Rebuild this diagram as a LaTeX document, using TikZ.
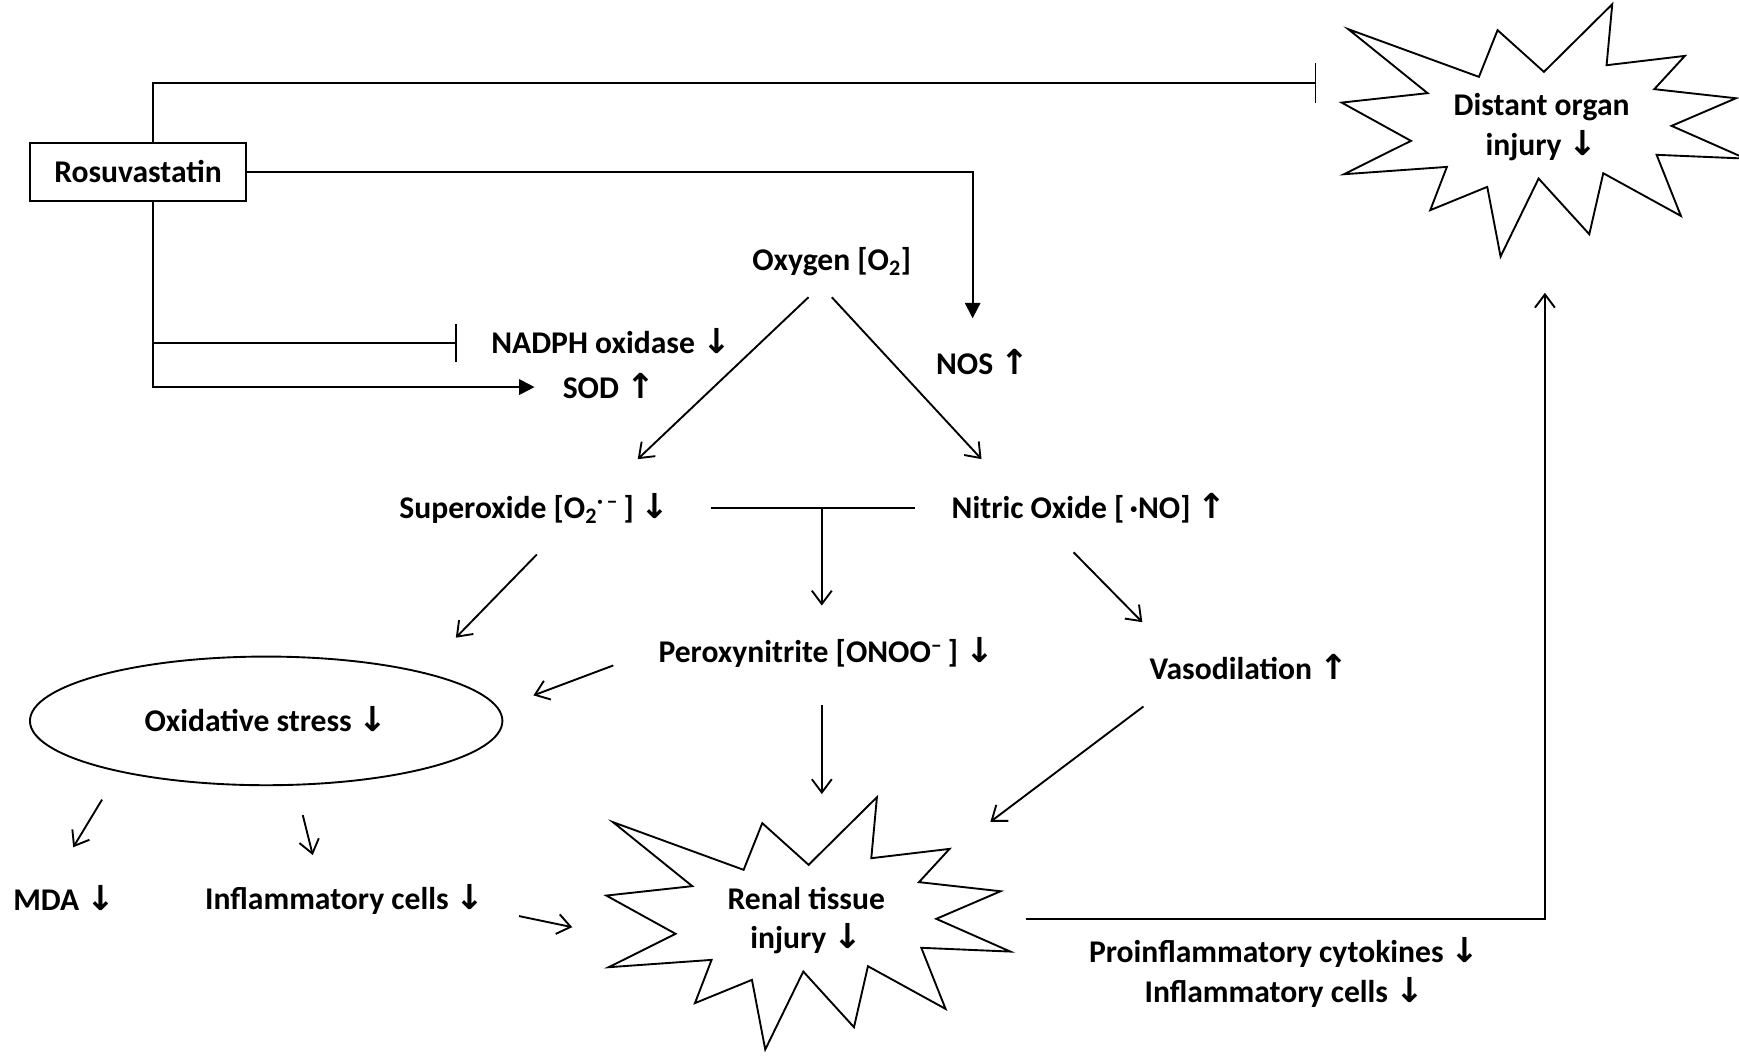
\documentclass[tikz,border=0pt]{standalone}
\usepackage{fontspec}
\setmainfont{Carlito}
\newfontfamily\arrowfont{DejaVu Sans}
\usepackage{tikz}
\usetikzlibrary{arrows.meta, calc, shapes.geometric}

\newcommand{\arrdown}{\smash{\arrowfont\bfseries\fontsize{31}{31}\selectfont ↓}}
\newcommand{\arrup}{\smash{\arrowfont\bfseries\fontsize{31}{31}\selectfont ↑}}
\newcommand{\burst}[1]{%
\draw (#1) +(-174.3,-88.7) -- +(-56.5,-45.7) -- +(-39.7,-87.8) -- +(2.1,-50.2) -- +(63.7,-111.2) -- +(58.6,-56.2) -- +(129.2,-64.6) -- +(101.6,-34.6) -- +(175.2,-26.4) -- +(117.2,-1.5) -- +(184,28) -- +(103.7,24.6) -- +(125.6,79.7) -- +(55.6,41.2) -- +(43,96.2) -- +(-2.7,46) -- +(-37,116.3) -- +(-49,53.5) -- +(-100.4,74.5) -- +(-85.4,35.5) -- +(-178.2,42.1) -- +(-117.8,12) -- +(-180.3,-22.5) -- +(-102.8,-31) -- cycle;}

\begin{document}
\begin{tikzpicture}[x=1pt,y=1pt,yscale=-1,xscale=1,line width=1.7pt,
  txt/.style={inner sep=0pt, font=\fontsize{28.5}{36}\selectfont\bfseries, align=center},
  opn/.style={-{Straight Barb[length=12pt,width=18pt]}},
  fld/.style={-{Triangle[length=14pt,width=14pt]}},
  blk/.style={-{Bar[width=36pt]}}]
\useasboundingbox (0,0) rectangle (1568,952);

% Text Node
\node[txt, draw, minimum width=195pt, minimum height=52pt] (rosu) at (124.5,155) {Rosuvastatin};
% Text Node
\node[txt] (oxy) at (750,236) {Oxygen [O\textsubscript{2}]};
% Text Node
\node[txt] (nadph) at (551,309) {NADPH oxidase \arrdown};
% Text Node
\node[txt] (sod) at (549,350) {SOD \arrup};
% Text Node
\node[txt] (nos) at (886,328) {NOS \arrup};
% Text Node
\node[txt] (sup) at (482,459) {Superoxide [O\textsubscript{2}\textsuperscript{·\,–}\,] \arrdown};
% Text Node
\node[txt] (no) at (982,459) {Nitric Oxide [\,·NO] \arrup};
% Text Node
\node[txt] (per) at (745,589) {Peroxynitrite [ONOO\textsuperscript{–}\,] \arrdown};
% Text Node
\node[txt] (vaso) at (1126,603) {Vasodilation \arrup};
% Shape: Ellipse
\node[txt, draw, ellipse, minimum width=426pt, minimum height=116pt] (oxs) at (240,650) {Oxidative stress \arrdown};
% Text Node
\node[txt] (mda) at (58,812) {MDA \arrdown};
% Text Node
\node[txt] (infl) at (311,812) {Inflammatory cells \arrdown};
% Shape: Explosion
\node[txt] (renal) at (727,830) {Renal tissue\\injury \arrdown};
\burst{renal}
% Shape: Explosion
\node[txt] (distant) at (1390,115) {Distant organ\\injury \arrdown};
\burst{distant}
% Text Node
\node[txt] (cyto) at (1158,878) {Proinflammatory cytokines \arrdown\\Inflammatory cells \arrdown};

\coordinate (trunk) at ($(rosu.south)+(13.5,0)$);
\coordinate (junc) at ($(per)+(-4,-131)$);

%Straight Lines
\draw[blk] ($(rosu.north)+(13.5,0)$) |- ($(distant)+(-203,-40)$);
%Straight Lines
\draw[fld] (rosu.east) -| ($(nos)+(-9,-41)$);
%Straight Lines
\draw[fld] (trunk) |- ($(sod)+(-67,-1)$);
%Straight Lines
\draw[-{Bar[width=34pt]}] (trunk |- nadph) -- ($(nadph)+(-139,0)$);
%Straight Lines
\draw[opn] ($(oxy)+(-21,32)$) -- ($(sup)+(93,-45)$);
%Straight Lines
\draw[opn] ($(oxy)+(0,32)$) -- ($(no)+(-97,-45)$);
%Straight Lines
\draw ($(sup)+(159,-1)$) -- ($(no)+(-157,-1)$);
%Straight Lines
\draw[opn] (junc) -- ($(per)+(-4,-43)$);
%Straight Lines
\draw[opn] ($(sup)+(2,41)$) -- ($(oxs)+(171,-75)$);
%Straight Lines
\draw[opn] ($(per)+(-192,11)$) -- ($(oxs)+(241,-23)$);
%Straight Lines
\draw[opn] ($(no)+(-14,39)$) -- ($(vaso)+(-96,-42)$);
%Straight Lines
\draw[opn] ($(per)+(-4,47)$) -- ($(renal)+(14,-114)$);
%Straight Lines
\draw[opn] ($(vaso)+(-95,34)$) -- ($(renal)+(166,-89)$);
%Straight Lines
\draw[opn] ($(oxs)+(-148,71)$) -- ($(mda)+(8,-48)$);
%Straight Lines
\draw[opn] ($(oxs)+(33,85)$) -- ($(infl)+(-29,-41)$);
%Straight Lines
\draw[opn] ($(infl)+(157,14)$) -- ($(renal)+(-211,6)$);
%Straight Lines
\draw[opn] ($(renal)+(198,-1)$) -| ($(distant)+(3,149)$);

\end{tikzpicture}
\end{document}
